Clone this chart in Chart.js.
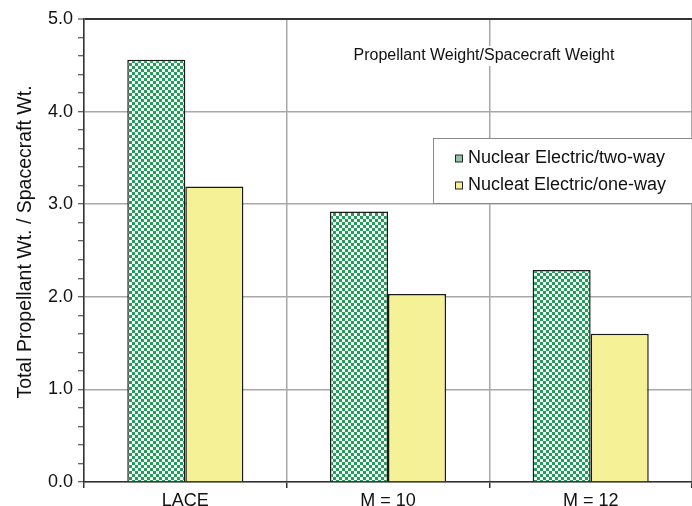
<!DOCTYPE html>
<html>
<head>
<meta charset="utf-8">
<script src="https://cdn.jsdelivr.net/npm/chart.js@4/dist/chart.umd.min.js"></script>
<style>
  html, body { margin: 0; padding: 0; background: #ffffff; }
  #wrap { width: 692px; height: 506px; }
</style>
</head>
<body>
<div id="wrap"><canvas id="c" width="692" height="506"></canvas></div>
<script>
// Propellant-to-spacecraft weight ratios for three propulsion options
const categories = ['LACE', 'M = 10', 'M = 12'];
const twoWayValues = [4.56, 2.92, 2.29];
const oneWayValues = [3.19, 2.03, 1.60];
const seriesNames = ['Nuclear Electric/two-way', 'Nucleat Electric/one-way'];
const yAxisTitle = 'Total Propellant Wt. / Spacecraft Wt.';
const noteText = 'Propellant Weight/Spacecraft Weight';
const yMin = 0, yMax = 5, yMinorStep = 0.2;

const FONT = "'Liberation Sans', Arial, sans-serif";
const GREEN = '#259a5b';
const YELLOW = '#f5f196';
const GRID = '#a8a8a8';
const AXIS = '#333333';

// green/white checker fill for the two-way bars
function checkerPattern() {
  const c = 3;
  const p = document.createElement('canvas');
  p.width = 2 * c; p.height = 2 * c;
  const g = p.getContext('2d');
  g.fillStyle = '#f6fbf8';
  g.fillRect(0, 0, 2 * c, 2 * c);
  g.fillStyle = GREEN;
  g.fillRect(0, 0, c, c);
  g.fillRect(c, c, c, c);
  return g.createPattern(p, 'repeat');
}
const checker = checkerPattern();

const isMajor = v => Math.abs(v - Math.round(v)) < 1e-6;

// rotated title for the value axis
const yTitle = {
  id: 'yTitle',
  afterDraw(chart) {
    const ctx = chart.ctx;
    ctx.save();
    ctx.translate(26, 242);
    ctx.rotate(-Math.PI / 2);
    ctx.font = '19.5px ' + FONT;
    ctx.fillStyle = '#111';
    ctx.textAlign = 'center';
    ctx.textBaseline = 'middle';
    ctx.fillText(yAxisTitle, 0, 0);
    ctx.restore();
  }
};

// boxed legend inside the plot, upper right
const legendBox = {
  id: 'legendBox',
  afterDatasetsDraw(chart) {
    const ctx = chart.ctx;
    const x = 433, y = 138.5, w = 270, h = 65;
    ctx.save();
    ctx.fillStyle = '#ffffff';
    ctx.fillRect(x, y, w, h);
    ctx.strokeStyle = '#8a8a8a';
    ctx.lineWidth = 1;
    ctx.strokeRect(x + 0.5, y, w, h);
    const fills = ['#8cc6a5', YELLOW];
    ctx.font = '18px ' + FONT;
    ctx.textBaseline = 'middle';
    chart.data.datasets.forEach((ds, i) => {
      const cy = y + 20 + i * 27;
      ctx.fillStyle = fills[i];
      ctx.fillRect(455.5, cy - 3.5, 7, 7);
      ctx.strokeStyle = '#222';
      ctx.lineWidth = 1;
      ctx.strokeRect(455.5, cy - 3.5, 7, 7);
      ctx.fillStyle = '#111';
      ctx.fillText(ds.label, 468, cy);
    });
    ctx.restore();
  }
};

// caption placed over the grid with a white backing
const noteLabel = {
  id: 'noteLabel',
  afterDatasetsDraw(chart) {
    const ctx = chart.ctx;
    ctx.save();
    ctx.font = '16px ' + FONT;
    const w = ctx.measureText(noteText).width;
    const cx = 484, cy = 56;
    ctx.fillStyle = '#ffffff';
    ctx.fillRect(cx - w / 2 - 2, cy - 10, w + 4, 20);
    ctx.fillStyle = '#111';
    ctx.textAlign = 'center';
    ctx.textBaseline = 'middle';
    ctx.fillText(noteText, cx, cy);
    ctx.restore();
  }
};

new Chart(document.getElementById('c'), {
  type: 'bar',
  data: {
    labels: categories,
    datasets: [
      {
        label: seriesNames[0],
        data: twoWayValues,
        backgroundColor: checker,
        borderColor: '#1a1a1a',
        borderWidth: 1.5,
        borderSkipped: 'bottom'
      },
      {
        label: seriesNames[1],
        data: oneWayValues,
        backgroundColor: YELLOW,
        borderColor: '#1a1a1a',
        borderWidth: 1.5,
        borderSkipped: 'bottom'
      }
    ]
  },
  options: {
    responsive: false,
    animation: false,
    devicePixelRatio: 1,
    layout: { padding: { top: 19, right: 0, left: 0, bottom: 0 } },
    datasets: { bar: { categoryPercentage: 0.573, barPercentage: 1.0 } },
    plugins: {
      legend: { display: false },
      tooltip: { enabled: false }
    },
    scales: {
      x: {
        offset: true,
        afterFit: s => { s.height = 24; },
        grid: {
          offset: true,
          color: GRID,
          lineWidth: 1.5,
          tickLength: 6,
          tickColor: AXIS,
          drawOnChartArea: true
        },
        border: { color: AXIS, width: 1.5 },
        ticks: { font: { size: 18, family: FONT }, color: '#111', padding: 2 }
      },
      y: {
        min: yMin,
        max: yMax,
        afterFit: s => { s.width = 84; },
        grid: {
          color: ctx => {
            const v = ctx.tick ? ctx.tick.value : 0;
            if (Math.abs(v - yMax) < 1e-6) return AXIS;
            return isMajor(v) ? GRID : 'rgba(0,0,0,0)';
          },
          lineWidth: ctx => {
            const v = ctx.tick ? ctx.tick.value : 0;
            return Math.abs(v - yMax) < 1e-6 ? 2 : 1.5;
          },
          tickColor: AXIS,
          tickLength: 6,
          tickWidth: 1
        },
        border: { color: AXIS, width: 1.5 },
        ticks: {
          stepSize: yMinorStep,
          maxTicksLimit: 40,
          autoSkip: false,
          padding: 5,
          font: { size: 18, family: FONT },
          color: '#111',
          callback: v => isMajor(v) ? v.toFixed(1) : ''
        }
      }
    }
  },
  plugins: [noteLabel, legendBox, yTitle]
});
</script>
</body>
</html>
